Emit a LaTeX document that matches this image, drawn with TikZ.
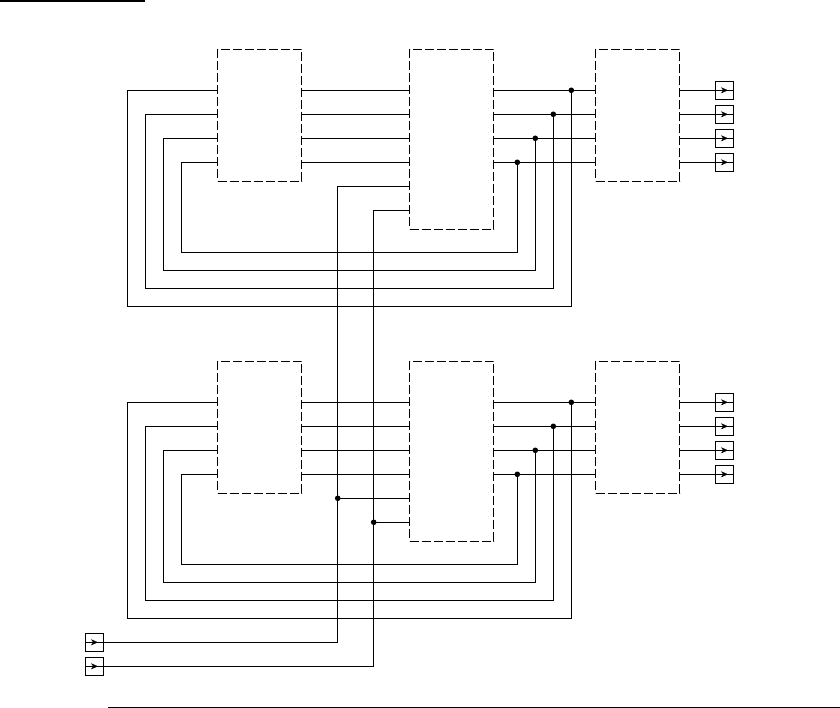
\documentclass[tikz,border=0pt]{standalone}
\usetikzlibrary{calc,arrows.meta}
\tikzset{
  x=1pt,y=-1pt,
  wire/.style={line width=1.05pt,line join=miter},
  dbox/.style={draw,line width=1.05pt,dash pattern=on 9pt off 3pt,minimum width=84pt,inner sep=0pt,outer sep=0pt},
  jdot/.style={circle,fill=black,minimum size=5.6pt,inner sep=0pt,outer sep=0pt},
  term/.style={draw,line width=1.05pt,minimum size=18pt,inner sep=0pt,outer sep=0pt},
  tip/.style={-{Stealth[length=7pt,width=6pt]},line width=0.3pt}
}
\begin{document}
\begin{tikzpicture}
\useasboundingbox (0,0) rectangle (840,708);
\fill[black] (0,0) rectangle (145,2.4);
\coordinate (ruleL) at (108.3,707.2);
\coordinate (ruleR) at (840,707.2);
\draw[wire] (ruleL) -- (ruleR);
\foreach \o/\n in {0/t,312/b}{
  \node[dbox,minimum height=132pt] (A\n) at (259.7,115.4+\o) {};
  \node[dbox,minimum height=180pt] (B\n) at (451.7,139.4+\o) {};
  \node[dbox,minimum height=132pt] (C\n) at (637.7,115.4+\o) {};
  \foreach \i/\w/\bx/\lx/\ly in {1/90.3/571.3/127.4/306.2,2/114.3/553.3/145.6/288.2,3/138.3/535.3/163.6/270.2,4/162.3/517.3/181.7/252.2}{
    \coordinate (l\n\i) at (\lx,\w+\o);
    \coordinate (m\n\i) at (\lx,\ly+\o);
    \coordinate (ai\n\i) at (217.7,\w+\o);
    \coordinate (ao\n\i) at (301.7,\w+\o);
    \coordinate (bi\n\i) at (409.7,\w+\o);
    \coordinate (bo\n\i) at (493.7,\w+\o);
    \coordinate (ci\n\i) at (595.7,\w+\o);
    \coordinate (co\n\i) at (679.7,\w+\o);
    \node[jdot] (j\n\i) at (\bx,\w+\o) {};
    \node[term] (T\n\i) at (724.5,\w+\o) {};
    \draw[wire] (ao\n\i) -- (bi\n\i);
    \draw[wire] (bo\n\i) -- (j\n\i.center) -- (ci\n\i);
    \draw[wire] (co\n\i) -- (T\n\i.west) -- (T\n\i.east);
    \draw[tip] ($(T\n\i.center)+(-3.5,0)$) -- ($(T\n\i.center)+(3.5,0)$);
    \draw[wire] (ai\n\i) -- (l\n\i) -- (m\n\i) -- (m\n\i -| j\n\i) -- (j\n\i.center);
  }
}
\node[jdot] (ja) at (337.7,498.3) {};
\node[jdot] (jb) at (373.7,522.3) {};
\node[term] (Ia) at (94.5,642.3) {};
\node[term] (Ib) at (94.5,666.3) {};
\coordinate (ta) at (409.7,186.3);
\coordinate (tb) at (409.7,210.3);
\coordinate (ua) at (409.7,498.3);
\coordinate (ub) at (409.7,522.3);
\draw[tip] ($(Ia.center)+(-3.5,0)$) -- ($(Ia.center)+(3.5,0)$);
\draw[tip] ($(Ib.center)+(-3.5,0)$) -- ($(Ib.center)+(3.5,0)$);
\draw[wire] (Ia.west) -- (Ia.east) -- (Ia.east -| ja) -- (ja.center) -- (ja |- ta) -- (ta);
\draw[wire] (Ib.west) -- (Ib.east) -- (Ib.east -| jb) -- (jb.center) -- (jb |- tb) -- (tb);
\draw[wire] (ja.center) -- (ua);
\draw[wire] (jb.center) -- (ub);
\end{tikzpicture}
\end{document}
